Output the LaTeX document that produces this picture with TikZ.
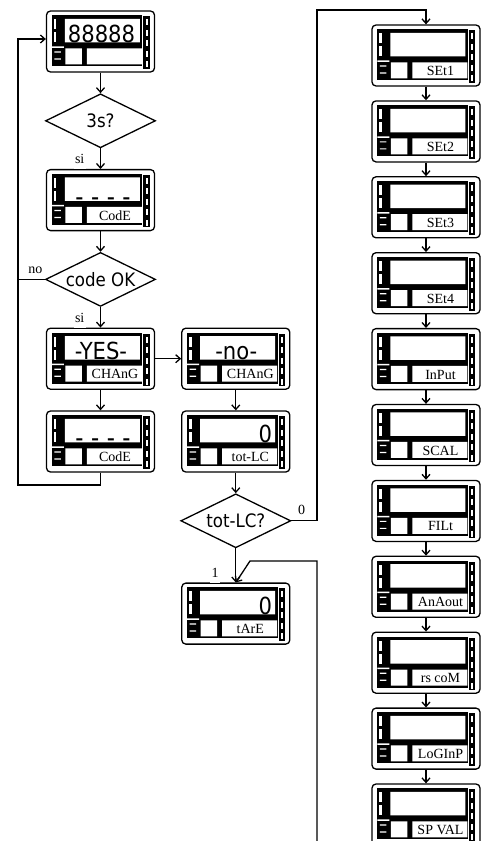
\documentclass[tikz,border=0pt]{standalone}
\usepackage{fontspec}
\setmainfont{Liberation Serif}
\newfontfamily\dispfont{DejaVu Sans Condensed}
\usetikzlibrary{arrows.meta,positioning,shapes.geometric}

% front panel of a display unit, drawn over the named node
\newcommand\dispface[1]{%
  \begin{scope}[shift={(#1.north west)},sharp corners]
    \fill (6,5) rectangle (96.5,56);
    \fill (97.5,6) rectangle (104,58.5);
    \fill[white] (19,8.5) rectangle (94,32) (19.5,38) rectangle (36,54)
      (41,38) rectangle (96,54) (6,36) rectangle (18,37.5)
      (8.5,41) rectangle (15,42.2) (8.5,48) rectangle (15,49.2);
    \foreach \y in {9,22} \fill[white] (8,\y) rectangle (10.5,\y+10);
    \foreach \y in {9,19.5,30,40.5,51} \fill[white] (100,\y) rectangle (101.8,\y+6);
  \end{scope}}

\begin{document}
\begin{tikzpicture}[x=1pt,y=-1pt,node distance=20.5pt,line width=1.3pt,>={Straight Barb[length=4.5pt,width=8pt]}]
  \tikzstyle{disp}=[draw,rounded corners=4pt,minimum width=108pt,minimum height=61pt,inner sep=0pt]
  \tikzstyle{ask}=[draw,diamond,aspect=2,minimum width=110pt,minimum height=54pt,inner sep=0pt,font=\dispfont\fontsize{18.5}{20}\selectfont]
  \tikzstyle{big}=[anchor=base,inner sep=0pt,font=\dispfont\fontsize{23.5}{25}\selectfont]
  \tikzstyle{dashrow}=[anchor=base,inner sep=0pt,font=\dispfont\bfseries\fontsize{17}{18}\selectfont]
  \tikzstyle{tag}=[inner sep=0pt,font=\fontsize{14}{16}\selectfont]
  \tikzstyle{yn}=[inner sep=1.5pt,text depth=4pt,font=\fontsize{14}{16}\selectfont]
  \useasboundingbox (0,0) rectangle (487,841);
  % left column
  \node[disp] (start) at (100.5,41.5) {};
  \node[ask,below=of start] (hold) {3s?};
  \node[disp,below=of hold] (code) {};
  \node[ask,below=of code] (check) {code OK};
  \node[disp,below=of check] (yes) {};
  \node[disp,below=of yes] (code2) {};
  % middle column
  \node[disp,right=26pt of yes] (no) {};
  \node[disp,below=of no] (totlc) {};
  \node[ask,below=of totlc] (tot) {tot-LC?};
  \node[disp,below=34pt of tot] (tare) {};
  % right column
  \node[disp] (m1) at (426,55.5) {};
  \foreach \i [count=\j] in {2,...,11}
    \node[disp,below=13.6pt of m\j] (m\i) {};
  \foreach \n in {start,code,yes,code2,no,totlc,tare,m1,m2,m3,m4,m5,m6,m7,m8,m9,m10,m11}
    \dispface{\n};
  % display texts
  \node[big] at ([xshift=1pt,yshift=-1pt]start.center) {88888};
  \node[dashrow] at ([xshift=2.5pt,yshift=-3pt]code.center) {–\hspace{8pt}–\hspace{8pt}–\hspace{8pt}–};
  \node[dashrow] at ([xshift=2.5pt,yshift=-3pt]code2.center) {–\hspace{8pt}–\hspace{8pt}–\hspace{8pt}–};
  \node[big] at ([xshift=0.5pt,yshift=-1pt]yes.center) {-YES-};
  \node[big] at ([xshift=0.5pt,yshift=-1pt]no.center) {-no-};
  \node[big,anchor=base east] at ([xshift=37pt,yshift=-1pt]totlc.center) {0};
  \node[big,anchor=base east] at ([xshift=37pt,yshift=-1pt]tare.center) {0};
  \foreach \n/\t in {code/CodE,yes/CHAnG,code2/CodE,no/CHAnG,totlc/tot-LC,tare/tArE}
    \node[tag] at ([xshift=14.5pt,yshift=-15.5pt]\n.center) {\t};
  \foreach \t [count=\i] in {SEt1,SEt2,SEt3,SEt4,InPut,SCAL,FILt,AnAout,rs coM,LoGInP,SP VAL}
    \node[tag] at ([xshift=14.5pt,yshift=-15.5pt]m\i.center) {\t};
  % connectors
  \foreach \a/\b in {start/hold,hold/code,code/check,check/yes,yes/code2,yes/no,no/totlc,totlc/tot,tot/tare}
    \draw[->] (\a) -- (\b);
  \foreach \i [count=\j] in {2,...,11}
    \draw[->] (m\j) -- (m\i);
  \coordinate (loop) at (18,485);
  \coordinate (top) at (317,10);
  \coordinate (bot) at (317,841);
  \coordinate (bend) at (250,561);
  \draw[->] (code2.south) |- (loop) |- ([yshift=2.5pt]start.west);
  \draw (check.west) -- node[yn,above,pos=0.35] {no} (check.west -| loop);
  \draw[->] (tot.east) -| node[yn,above,pos=0.2] {0} (top) -| (m1.north);
  \draw[->] (bot) |- (bend) -- (tare.north);
  \draw (m11.south) -- (m11.south |- bot);
  \node[yn,fill=white,anchor=south east] at ([xshift=-14pt,yshift=-1pt]code.north) {si};
  \node[yn,fill=white,anchor=south east] at ([xshift=-14pt,yshift=-1pt]yes.north) {si};
  \node[yn,fill=white,anchor=south east] at ([xshift=-15pt,yshift=-1pt]tare.north) {1};
\end{tikzpicture}
\end{document}
